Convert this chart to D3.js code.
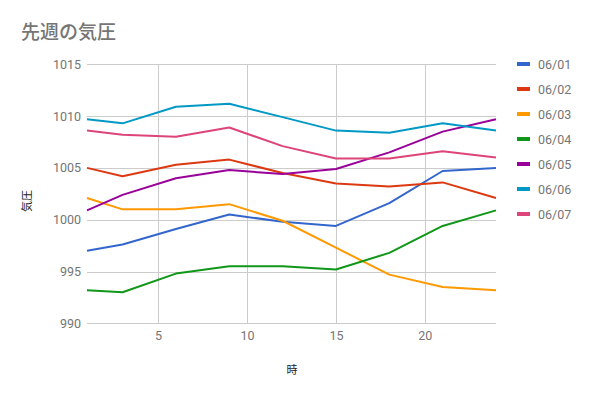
<!DOCTYPE html>
<html><head><meta charset="utf-8">
<script src="https://cdn.jsdelivr.net/npm/d3@7"></script>
<style>
body{margin:0;background:#fff;}
text{font-family:Roboto,"Noto Sans CJK JP",sans-serif;}
</style></head>
<body><svg id="c" width="591" height="397"></svg>
<script>
const hours = [1,3,6,9,12,15,18,21,24];
const seriesNames = ["06/01","06/02","06/03","06/04","06/05","06/06","06/07"];
const s0601 = [997.0,997.6,999.1,1000.5,999.8,999.4,1001.6,1004.7,1005.0];
const s0602 = [1005.0,1004.2,1005.3,1005.8,1004.5,1003.5,1003.2,1003.6,1002.1];
const s0603 = [1002.1,1001.0,1001.0,1001.5,999.9,997.3,994.7,993.5,993.2];
const s0604 = [993.2,993.0,994.8,995.5,995.5,995.2,996.8,999.4,1000.9];
const s0605 = [1000.9,1002.4,1004.0,1004.8,1004.4,1004.9,1006.5,1008.5,1009.7];
const s0606 = [1009.7,1009.3,1010.9,1011.2,1009.9,1008.6,1008.4,1009.3,1008.6];
const s0607 = [1008.6,1008.2,1008.0,1008.9,1007.1,1005.9,1005.9,1006.6,1006.0];
const seriesValues = [s0601,s0602,s0603,s0604,s0605,s0606,s0607];
const colors = ["#3366cc","#dc3912","#ff9900","#109618","#990099","#0099c6","#dd4477"];
const yTicks = [990,995,1000,1005,1010,1015];
const xTicks = [5,10,15,20];

const svg = d3.select("#c");
const m = {l:87, r:496, t:64.3, b:323.3};
const x = d3.scaleLinear().domain([1,24]).range([m.l, m.r]);
const y = d3.scaleLinear().domain([990,1015]).range([m.b, m.t]);

// title
svg.append("text").attr("x",21).attr("y",39).attr("font-size",19).attr("font-weight",500)
  .attr("fill","#757575").text("先週の気圧");

// grid
const gy = svg.append("g");
gy.selectAll("line").data(yTicks).join("line")
  .attr("x1",m.l).attr("x2",m.r).attr("y1",d=>Math.round(y(d))+0.5).attr("y2",d=>Math.round(y(d))+0.5)
  .attr("stroke","#cccccc").attr("stroke-width",1);
const gx = svg.append("g");
gx.selectAll("line").data(xTicks).join("line")
  .attr("y1",m.t).attr("y2",m.b).attr("x1",d=>Math.round(x(d))+0.5).attr("x2",d=>Math.round(x(d))+0.5)
  .attr("stroke","#cccccc").attr("stroke-width",1);

// axis labels via d3 axes
const ya = svg.append("g").attr("transform",`translate(${m.l},0)`)
  .call(d3.axisLeft(y).tickValues(yTicks).tickSize(0).tickPadding(6).tickFormat(d3.format("d")));
ya.select(".domain").remove();
ya.selectAll("text").attr("font-size",12.5).attr("fill","#757575").attr("font-family","Roboto,sans-serif");
const xa = svg.append("g").attr("transform",`translate(0,${m.b})`)
  .call(d3.axisBottom(x).tickValues(xTicks).tickSize(0).tickPadding(8).tickFormat(d3.format("d")));
xa.select(".domain").remove();
xa.selectAll("text").attr("font-size",12.5).attr("fill","#757575").attr("font-family","Roboto,sans-serif");

// lines
const line = d3.line().x((d,i)=>x(hours[i])).y(d=>y(d));
seriesValues.forEach((vals,k)=>{
  svg.append("path").datum(vals).attr("d",line).attr("fill","none")
    .attr("stroke",colors[k]).attr("stroke-width",2).attr("stroke-linejoin","round");
});

// axis titles
svg.append("text").attr("x",292).attr("y",374).attr("text-anchor","middle").attr("font-size",11)
  .attr("fill","#222").text("時");
svg.append("text").attr("transform","translate(31,201) rotate(-90)").attr("text-anchor","middle")
  .attr("font-size",11).attr("fill","#222").text("気圧");

// legend
const lg = svg.append("g");
seriesNames.forEach((n,k)=>{
  const yy = 64 + k*25;
  lg.append("rect").attr("x",517).attr("y",yy-2).attr("width",13).attr("height",4).attr("fill",colors[k]);
  lg.append("text").attr("x",538).attr("y",yy+4.5).attr("font-size",12.5).attr("fill","#757575").text(n);
});
</script></body></html>
